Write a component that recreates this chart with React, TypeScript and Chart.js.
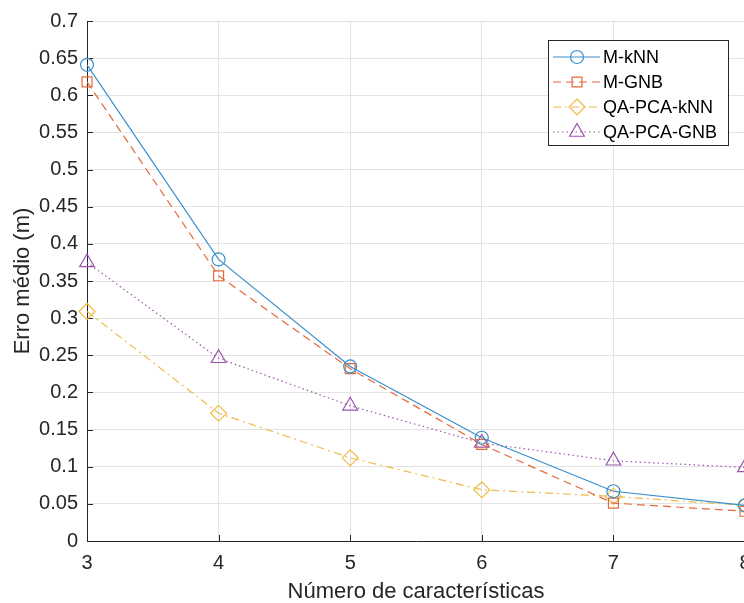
import React, { useEffect, useRef } from 'react';
import { Chart, registerables } from 'chart.js';

Chart.register(...registerables);

const features = [3, 4, 5, 6, 7, 8];
const mKnn = [0.641, 0.379, 0.235, 0.139, 0.067, 0.048];
const mGnb = [0.618, 0.357, 0.232, 0.130, 0.051, 0.040];
const qaPcaKnn = [0.309, 0.172, 0.112, 0.069, 0.060, 0.048];
const qaPcaGnb = [0.375, 0.246, 0.182, 0.132, 0.108, 0.099];
const seriesNames = ['M-kNN', 'M-GNB', 'QA-PCA-kNN', 'QA-PCA-GNB'];
const seriesColors = ['#3a8fcd', '#e4693a', '#f0bc4a', '#9a55ac'];
const seriesDashes: number[][] = [[], [8, 5], [8, 4, 2, 4], [1.5, 3]];
const seriesMarkers = ['circle', 'rect', 'rectRot', 'triangle'];
const markerRadius = [6.5, 7, 8, 8.5];
const xTitle = 'Número de características';
const yTitle = 'Erro médio (m)';

const FONT = '"Liberation Sans", Arial, sans-serif';
const AXIS = '#262626';

function drawMarker(ctx: CanvasRenderingContext2D, style: string, x: number, y: number, r: number) {
  ctx.beginPath();
  if (style === 'circle') {
    ctx.arc(x, y, r, 0, Math.PI * 2);
  } else if (style === 'rect') {
    const s = Math.SQRT1_2 * r;
    ctx.rect(x - s, y - s, 2 * s, 2 * s);
  } else if (style === 'rectRot') {
    ctx.moveTo(x, y - r);
    ctx.lineTo(x + r, y);
    ctx.lineTo(x, y + r);
    ctx.lineTo(x - r, y);
    ctx.closePath();
  } else {
    const a = Math.PI * 2 / 3;
    ctx.moveTo(x, y - r);
    ctx.lineTo(x + Math.sin(a) * r, y - Math.cos(a) * r);
    ctx.lineTo(x + Math.sin(2 * a) * r, y - Math.cos(2 * a) * r);
    ctx.closePath();
  }
  ctx.stroke();
}

const axesPlugin = {
  id: 'matlabAxes',
  beforeDatasetsDraw(chart: any) {
    const { ctx, chartArea, scales } = chart;
    const { left, right, top, bottom } = chartArea;
    ctx.save();
    ctx.strokeStyle = AXIS;
    ctx.lineWidth = 1;
    ctx.setLineDash([]);
    ctx.beginPath();
    ctx.moveTo(left + 0.5, top);
    ctx.lineTo(left + 0.5, bottom + 0.5);
    ctx.lineTo(right, bottom + 0.5);
    ctx.stroke();
    ctx.beginPath();
    scales.y.ticks.forEach((t: any) => {
      const py = Math.round(scales.y.getPixelForValue(t.value)) + 0.5;
      ctx.moveTo(left, py);
      ctx.lineTo(left + 6, py);
    });
    scales.x.ticks.forEach((t: any) => {
      const px = Math.round(scales.x.getPixelForValue(t.value)) + 0.5;
      ctx.moveTo(px, bottom);
      ctx.lineTo(px, bottom - 6);
    });
    ctx.stroke();
    // titles
    ctx.fillStyle = AXIS;
    ctx.font = `22px ${FONT}`;
    ctx.textAlign = 'center';
    ctx.textBaseline = 'middle';
    ctx.fillText(xTitle, (left + right) / 2, 592);
    ctx.save();
    ctx.translate(23, (top + bottom) / 2);
    ctx.rotate(-Math.PI / 2);
    ctx.fillText(yTitle, 0, 0);
    ctx.restore();
    ctx.restore();
  },
};

const legendPlugin = {
  id: 'matlabLegend',
  afterDraw(chart: any) {
    const ctx: CanvasRenderingContext2D = chart.ctx;
    const bx = 548.5, by = 40.5, bw = 180, bh = 105;
    ctx.save();
    ctx.fillStyle = '#ffffff';
    ctx.fillRect(bx, by, bw, bh);
    ctx.strokeStyle = AXIS;
    ctx.lineWidth = 1;
    ctx.setLineDash([]);
    ctx.strokeRect(bx, by, bw, bh);
    const rows = [57, 82, 107, 132];
    ctx.font = `18px ${FONT}`;
    ctx.textBaseline = 'middle';
    ctx.textAlign = 'left';
    seriesNames.forEach((name, i) => {
      const y = rows[i];
      ctx.strokeStyle = seriesColors[i];
      ctx.lineWidth = 1.2;
      ctx.setLineDash(seriesDashes[i]);
      ctx.beginPath();
      ctx.moveTo(553, y);
      ctx.lineTo(600, y);
      ctx.stroke();
      ctx.setLineDash([]);
      drawMarker(ctx, seriesMarkers[i], 577, y, markerRadius[i]);
      ctx.fillStyle = '#000000';
      ctx.fillText(name, 603, y + 1);
    });
    ctx.restore();
  },
};

const seriesData = [mKnn, mGnb, qaPcaKnn, qaPcaGnb];

export default function App() {
  const canvasRef = useRef<HTMLCanvasElement>(null);

  useEffect(() => {
    if (!canvasRef.current) return;
    const chart = new Chart(canvasRef.current, {
      type: 'line',
      data: {
        datasets: seriesNames.map((name, i) => ({
          label: name,
          data: features.map((f, j) => ({ x: f, y: seriesData[i][j] })),
          borderColor: seriesColors[i],
          borderWidth: 1.2,
          borderDash: seriesDashes[i],
          pointStyle: seriesMarkers[i] as any,
          pointRadius: markerRadius[i],
          pointBorderColor: seriesColors[i],
          pointBackgroundColor: 'rgba(0,0,0,0)',
          pointBorderWidth: 1.2,
          tension: 0,
          clip: false as any,
        })),
      },
      options: {
        animation: false,
        responsive: false,
        devicePixelRatio: 1,
        layout: { padding: { left: 0, top: 20, right: 25, bottom: 0 } },
        plugins: { legend: { display: false }, tooltip: { enabled: false } },
        scales: {
          x: {
            type: 'linear',
            min: 3,
            max: 8,
            afterFit: (s: any) => { s.height = 62; },
            ticks: {
              stepSize: 1,
              color: AXIS,
              font: { family: FONT, size: 20 },
              padding: 10,
            },
            grid: { color: '#e3e3e3', drawTicks: false },
            border: { display: false },
          },
          y: {
            type: 'linear',
            min: 0,
            max: 0.7,
            afterFit: (s: any) => { s.width = 87; },
            ticks: {
              stepSize: 0.05,
              color: AXIS,
              font: { family: FONT, size: 20 },
              padding: 9,
              callback: (v: any) => String(Number(Number(v).toFixed(2))),
            },
            grid: { color: '#e3e3e3', drawTicks: false },
            border: { display: false },
          },
        },
      },
      plugins: [axesPlugin, legendPlugin],
    });
    return () => chart.destroy();
  }, []);

  return (
    <div style={{ position: 'absolute', left: 0, top: 0, width: 744, height: 603, overflow: 'hidden', background: '#fff' }}>
      <canvas ref={canvasRef} width={770} height={603} style={{ width: 770, height: 603, display: 'block' }} />
    </div>
  );
}
